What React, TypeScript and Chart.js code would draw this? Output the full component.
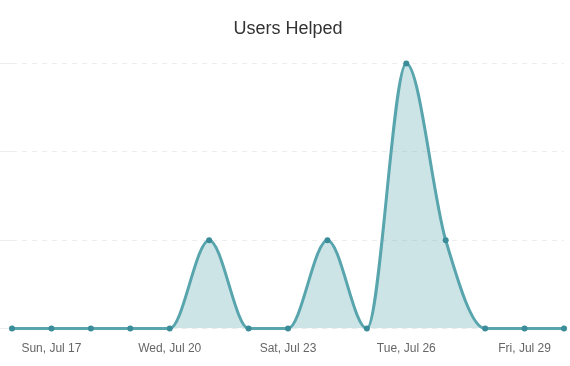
import React, { useEffect, useRef } from "react";
import { Chart, registerables } from "chart.js";

Chart.register(...registerables);

const labels: string[] = [
  "Sat, Jul 16", "Sun, Jul 17", "Mon, Jul 18", "Tue, Jul 19", "Wed, Jul 20",
  "Thu, Jul 21", "Fri, Jul 22", "Sat, Jul 23", "Sun, Jul 24", "Mon, Jul 25",
  "Tue, Jul 26", "Wed, Jul 27", "Thu, Jul 28", "Fri, Jul 29", "Sat, Jul 30",
];
const usersHelped: number[] = [0, 0, 0, 0, 0, 1, 0, 0, 1, 0, 3, 1, 0, 0, 0];
const chartTitle = "Users Helped";

export default function App() {
  const ref = useRef<HTMLCanvasElement | null>(null);
  useEffect(() => {
    document.body.style.margin = "0";
    if (!ref.current) return;
    const chart = new Chart(ref.current, {
      type: "line",
      data: {
        labels,
        datasets: [
          {
            label: chartTitle,
            data: usersHelped,
            borderColor: "rgb(88,165,174)",
            backgroundColor: "rgba(88,165,174,0.3)",
            fill: true,
            borderWidth: 3,
            cubicInterpolationMode: "monotone",
            pointRadius: 3,
            pointBorderWidth: 0,
            pointBackgroundColor: "rgb(58,141,152)",
            clip: false as any,
          },
        ],
      },
      options: {
        animation: false,
        responsive: false,
        maintainAspectRatio: false,
        layout: { autoPadding: false, padding: { left: 0, right: 0, top: 0, bottom: 4 } },
        plugins: {
          legend: { display: false },
          tooltip: { enabled: false },
          title: {
            display: true,
            fullSize: false,
            text: chartTitle,
            color: "#333",
            font: { family: "'Liberation Sans', Arial, sans-serif", size: 18, weight: "normal" },
            padding: { top: 18, bottom: 24 },
          },
        },
        scales: {
          x: {
            grid: {
              display: true,
              drawOnChartArea: false,
              drawTicks: true,
              tickLength: 7,
              color: "rgba(0,0,0,0)",
            },
            border: { display: false },
            ticks: {
              color: "#666",
              font: { family: "'Liberation Sans', Arial, sans-serif", size: 12 },
              padding: 6,
              maxRotation: 0,
              autoSkip: false,
              callback: (_v: any, i: number) => (i % 3 === 1 ? labels[i] : ""),
            },
          },
          y: {
            min: 0,
            max: 3,
            ticks: { display: false, stepSize: 1 },
            border: { display: false, dash: [5, 5] },
            grid: {
              color: "rgba(0,0,0,0.07)",
              lineWidth: 1,
              tickLength: 12,
              drawTicks: true,
            },
          },
        },
      },
    });
    return () => chart.destroy();
  }, []);
  return (
    <div style={{ width: 570, height: 366 }}>
      <canvas ref={ref} width={570} height={366} style={{ display: "block" }} />
    </div>
  );
}
